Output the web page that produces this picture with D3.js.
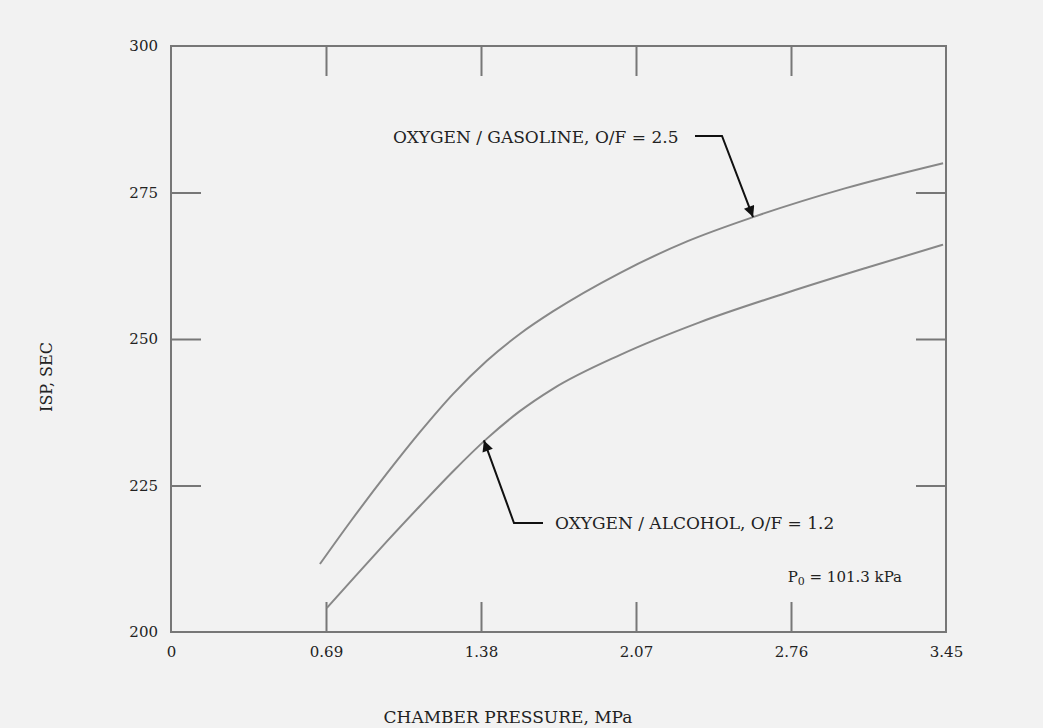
<!DOCTYPE html>
<html>
<head>
<meta charset="utf-8">
<script src="https://cdn.jsdelivr.net/npm/d3@7"></script>
<style>
  html, body { margin: 0; padding: 0; background: #f2f2f2; }
  svg { display: block; }
  text { font-family: "DejaVu Serif", "Liberation Serif", serif; fill: #222; }
</style>
</head>
<body>
<svg id="chart" width="1043" height="728"></svg>
<script>
// ----------------------
// data
// ----------------------
const xTicks = [0, 0.69, 1.38, 2.07, 2.76, 3.45];
const xTickLabels = ["0", "0.69", "1.38", "2.07", "2.76", "3.45"];
const yTicks = [200, 225, 250, 275, 300];

const gasolineX = [0.663, 0.80, 0.962, 1.108, 1.255, 1.406, 1.554, 1.70, 2.00, 2.30, 2.591, 3.00, 3.437];
const gasolineY = [211.6, 218.9, 227.1, 234.1, 240.6, 246.3, 250.9, 254.7, 261.3, 266.7, 270.8, 275.7, 280.0];

const alcoholX = [0.694, 0.82, 0.962, 1.108, 1.255, 1.406, 1.55, 1.70, 2.00, 2.35, 2.742, 3.10, 3.437];
const alcoholY = [204.1, 209.5, 215.5, 221.5, 227.4, 233.0, 237.6, 241.5, 247.3, 252.8, 257.9, 262.2, 266.1];

// ----------------------
// layout
// ----------------------
const svg = d3.select("#chart");
const margin = { top: 46, right: 97, bottom: 96, left: 171 };
const width = 1043 - margin.left - margin.right;
const height = 728 - margin.top - margin.bottom;

const g = svg.append("g")
    .attr("transform", `translate(${margin.left},${margin.top})`);

const x = d3.scaleLinear().domain([0, 3.45]).range([0, width]);
const y = d3.scaleLinear().domain([200, 300]).range([height, 0]);

const frameColor = "#777";
const tickLen = 30;

// inward ticks on all four sides
const axisStyle = sel => {
    sel.select(".domain").remove();
    sel.selectAll(".tick line").attr("stroke", frameColor).attr("stroke-width", 2);
    sel.selectAll(".tick text").attr("font-size", 15).attr("fill", "#222")
        .attr("font-family", "DejaVu Serif");
};

g.append("g")
    .attr("transform", `translate(0,${height})`)
    .call(d3.axisBottom(x).tickValues(xTicks).tickSizeInner(-tickLen).tickSizeOuter(0)
        .tickFormat((d, i) => xTickLabels[i]).tickPadding(14))
    .call(axisStyle);

g.append("g")
    .call(d3.axisTop(x).tickValues(xTicks).tickSizeInner(-tickLen).tickSizeOuter(0).tickFormat(""))
    .call(axisStyle);

g.append("g")
    .call(d3.axisLeft(y).tickValues(yTicks).tickSizeInner(-tickLen).tickSizeOuter(0).tickPadding(13))
    .call(axisStyle);

g.append("g")
    .attr("transform", `translate(${width},0)`)
    .call(d3.axisRight(y).tickValues(yTicks).tickSizeInner(-tickLen).tickSizeOuter(0).tickFormat(""))
    .call(axisStyle);

// no tick marks on the corners
g.selectAll(".tick").filter(d => d === 0 || d === 3.45 || d === 200 || d === 300)
    .select("line").attr("stroke", "none");

// frame
g.append("rect")
    .attr("width", width)
    .attr("height", height)
    .attr("fill", "none")
    .attr("stroke", frameColor)
    .attr("stroke-width", 2);

// ----------------------
// curves
// ----------------------
const line = d3.line()
    .x(d => x(d[0]))
    .y(d => y(d[1]))
    .curve(d3.curveMonotoneX);

[[gasolineX, gasolineY], [alcoholX, alcoholY]].forEach(([xs, ys]) => {
    g.append("path")
        .datum(xs.map((v, i) => [v, ys[i]]))
        .attr("fill", "none")
        .attr("stroke", "#888")
        .attr("stroke-width", 2)
        .attr("d", line);
});

// ----------------------
// annotations
// ----------------------
svg.append("defs").append("marker")
    .attr("id", "arrow")
    .attr("viewBox", "0 0 10 10")
    .attr("refX", 10).attr("refY", 5)
    .attr("markerWidth", 12).attr("markerHeight", 11)
    .attr("markerUnits", "userSpaceOnUse")
    .attr("orient", "auto")
    .append("path")
    .attr("d", "M0,0 L10,5 L0,10 Z")
    .attr("fill", "#111");

function callout(label, labelPos, elbow, tipX, tipY) {
    const tx = x(tipX), ty = y(tipY);
    g.append("text")
        .attr("x", labelPos[0] - margin.left)
        .attr("y", labelPos[1] - margin.top)
        .attr("font-size", 17)
        .text(label);
    g.append("path")
        .attr("d", `M${elbow[0] - margin.left},${elbow[1] - margin.top}` +
                   `H${elbow[2] - margin.left}L${tx},${ty}`)
        .attr("fill", "none")
        .attr("stroke", "#111")
        .attr("stroke-width", 2)
        .attr("marker-end", "url(#arrow)");
}

callout("OXYGEN / GASOLINE, O/F = 2.5", [393, 143], [695, 136, 722], 2.591, 270.8);
callout("OXYGEN / ALCOHOL, O/F = 1.2", [555, 529], [543, 523, 514], 1.393, 232.7);

const p0 = g.append("text")
    .attr("x", 902 - margin.left)
    .attr("y", 582 - margin.top)
    .attr("text-anchor", "end")
    .attr("font-size", 15);
p0.append("tspan").text("P");
p0.append("tspan").attr("font-size", 11).attr("dy", 3).text("0");
p0.append("tspan").attr("dy", -3).text(" = 101.3 kPa");

// axis titles
svg.append("text")
    .attr("x", 508)
    .attr("y", 723)
    .attr("text-anchor", "middle")
    .attr("font-size", 17)
    .text("CHAMBER PRESSURE, MPa");

svg.append("text")
    .attr("transform", "translate(52,377) rotate(-90)")
    .attr("text-anchor", "middle")
    .attr("font-size", 16)
    .text("ISP, SEC");
</script>
</body>
</html>
